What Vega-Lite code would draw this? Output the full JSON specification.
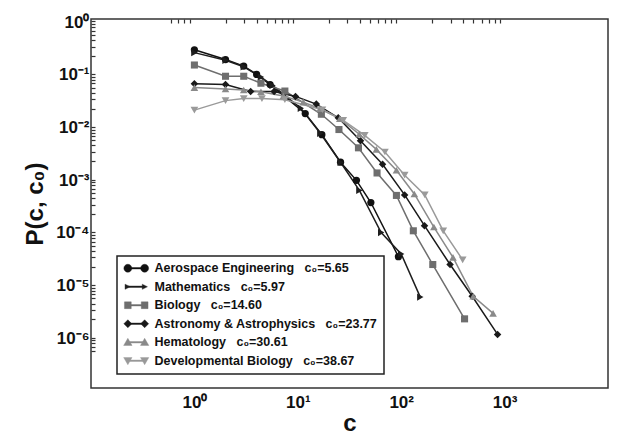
{
  "$schema": "https://vega.github.io/schema/vega-lite/v6.json",
  "width": 517,
  "height": 369,
  "autosize": "none",
  "padding": {"left": 91, "top": 19, "right": 12, "bottom": 52},
  "background": "white",
  "config": {"view": {"stroke": "#333333", "strokeWidth": 1.5}, "font": "Liberation Sans", "axis": {"ticks": false, "tickSize": 0, "grid": true, "domain": false, "gridColor": "#333333", "gridWidth": 1.2, "gridOpacity": 1, "zindex": 1}},
  "data": {"values": [
    {"series": "Aerospace Engineering", "c": 1, "p": 0.26},
    {"series": "Aerospace Engineering", "c": 2, "p": 0.17},
    {"series": "Aerospace Engineering", "c": 3, "p": 0.128},
    {"series": "Aerospace Engineering", "c": 4, "p": 0.089},
    {"series": "Aerospace Engineering", "c": 5.4, "p": 0.057},
    {"series": "Aerospace Engineering", "c": 11.8, "p": 0.0161},
    {"series": "Aerospace Engineering", "c": 17.1, "p": 0.0064},
    {"series": "Aerospace Engineering", "c": 25.9, "p": 0.00192},
    {"series": "Aerospace Engineering", "c": 36.9, "p": 0.00087},
    {"series": "Aerospace Engineering", "c": 50.9, "p": 0.00033},
    {"series": "Aerospace Engineering", "c": 94, "p": 0.000031},
    {"series": "Mathematics", "c": 1, "p": 0.23},
    {"series": "Mathematics", "c": 2, "p": 0.165},
    {"series": "Mathematics", "c": 3, "p": 0.124},
    {"series": "Mathematics", "c": 4.4, "p": 0.079},
    {"series": "Mathematics", "c": 5.7, "p": 0.055},
    {"series": "Mathematics", "c": 10.7, "p": 0.0203},
    {"series": "Mathematics", "c": 16.5, "p": 0.0068},
    {"series": "Mathematics", "c": 26, "p": 0.0019},
    {"series": "Mathematics", "c": 39.4, "p": 0.00056},
    {"series": "Mathematics", "c": 64, "p": 0.000089},
    {"series": "Mathematics", "c": 100, "p": 0.000035},
    {"series": "Mathematics", "c": 153, "p": 0.0000053},
    {"series": "Biology", "c": 1, "p": 0.134},
    {"series": "Biology", "c": 2, "p": 0.082},
    {"series": "Biology", "c": 3, "p": 0.082},
    {"series": "Biology", "c": 4.4, "p": 0.0605},
    {"series": "Biology", "c": 7.5, "p": 0.043},
    {"series": "Biology", "c": 16.9, "p": 0.0156},
    {"series": "Biology", "c": 25, "p": 0.008},
    {"series": "Biology", "c": 38.6, "p": 0.0036},
    {"series": "Biology", "c": 58.4, "p": 0.0012},
    {"series": "Biology", "c": 89.9, "p": 0.00045},
    {"series": "Biology", "c": 131, "p": 0.000096},
    {"series": "Biology", "c": 202, "p": 0.000022},
    {"series": "Biology", "c": 410, "p": 0.00000205},
    {"series": "Astronomy & Astrophysics", "c": 1, "p": 0.059},
    {"series": "Astronomy & Astrophysics", "c": 2, "p": 0.057},
    {"series": "Astronomy & Astrophysics", "c": 3.5, "p": 0.042},
    {"series": "Astronomy & Astrophysics", "c": 5.9, "p": 0.042},
    {"series": "Astronomy & Astrophysics", "c": 9.5, "p": 0.034},
    {"series": "Astronomy & Astrophysics", "c": 15.1, "p": 0.0243},
    {"series": "Astronomy & Astrophysics", "c": 24.6, "p": 0.0134},
    {"series": "Astronomy & Astrophysics", "c": 40.4, "p": 0.0049},
    {"series": "Astronomy & Astrophysics", "c": 66, "p": 0.00175},
    {"series": "Astronomy & Astrophysics", "c": 108, "p": 0.00046},
    {"series": "Astronomy & Astrophysics", "c": 168, "p": 0.00012},
    {"series": "Astronomy & Astrophysics", "c": 297, "p": 0.000022},
    {"series": "Astronomy & Astrophysics", "c": 486, "p": 0.0000055},
    {"series": "Astronomy & Astrophysics", "c": 855, "p": 0.00000104},
    {"series": "Hematology", "c": 1, "p": 0.05},
    {"series": "Hematology", "c": 2, "p": 0.047},
    {"series": "Hematology", "c": 3, "p": 0.045},
    {"series": "Hematology", "c": 4.4, "p": 0.0416},
    {"series": "Hematology", "c": 7.25, "p": 0.0346},
    {"series": "Hematology", "c": 11.3, "p": 0.0265},
    {"series": "Hematology", "c": 16.4, "p": 0.0198},
    {"series": "Hematology", "c": 25.5, "p": 0.0129},
    {"series": "Hematology", "c": 39.3, "p": 0.0065},
    {"series": "Hematology", "c": 57.5, "p": 0.00336},
    {"series": "Hematology", "c": 89.9, "p": 0.00135},
    {"series": "Hematology", "c": 134, "p": 0.00048},
    {"series": "Hematology", "c": 207, "p": 0.000113},
    {"series": "Hematology", "c": 317, "p": 0.00003},
    {"series": "Hematology", "c": 497, "p": 0.0000055},
    {"series": "Hematology", "c": 774, "p": 0.0000026},
    {"series": "Developmental Biology", "c": 1, "p": 0.0187},
    {"series": "Developmental Biology", "c": 2, "p": 0.0283},
    {"series": "Developmental Biology", "c": 3, "p": 0.031},
    {"series": "Developmental Biology", "c": 4.5, "p": 0.031},
    {"series": "Developmental Biology", "c": 7.5, "p": 0.0295},
    {"series": "Developmental Biology", "c": 17.3, "p": 0.019},
    {"series": "Developmental Biology", "c": 27.5, "p": 0.0119},
    {"series": "Developmental Biology", "c": 44.4, "p": 0.0062},
    {"series": "Developmental Biology", "c": 69.6, "p": 0.003},
    {"series": "Developmental Biology", "c": 108, "p": 0.00109},
    {"series": "Developmental Biology", "c": 169, "p": 0.00046},
    {"series": "Developmental Biology", "c": 255, "p": 0.000096},
    {"series": "Developmental Biology", "c": 393, "p": 0.000027}
  ]},
  "layer": [
    {
      "mark": {"type": "point", "opacity": 0},
      "encoding": {
        "x": {
          "field": "c", "type": "quantitative",
          "scale": {"type": "log", "domain": [0.6, 1690]},
          "axis": {
            "orient": "bottom", "labels": false, "title": null, "gridDash": [4, 2000], "zindex": 1,
            "values": [0.6,0.7,0.8,0.9,2,3,4,5,6,7,8,9,20,30,40,50,60,70,80,90,200,300,400,500,600,700,800,900]
          }
        },
        "y": {
          "field": "p", "type": "quantitative",
          "scale": {"type": "log", "domain": [4e-7, 1]},
          "axis": {
            "orient": "left", "labels": false, "title": null, "gridDash": [4, 2000], "zindex": 1,
            "values": [5e-7,6e-7,7e-7,8e-7,9e-7,2e-6,3e-6,4e-6,5e-6,6e-6,7e-6,8e-6,9e-6,2e-5,3e-5,4e-5,5e-5,6e-5,7e-5,8e-5,9e-5,2e-4,3e-4,4e-4,5e-4,6e-4,7e-4,8e-4,9e-4,0.002,0.003,0.004,0.005,0.006,0.007,0.008,0.009,0.02,0.03,0.04,0.05,0.06,0.07,0.08,0.09,0.2,0.3,0.4,0.5,0.6,0.7,0.8,0.9]
          }
        }
      }
    },
    {
      "mark": {"type": "point", "opacity": 0},
      "encoding": {
        "x": {
          "field": "c", "type": "quantitative",
          "axis": {
            "orient": "top", "labels": false, "title": null, "gridDash": [4, 2000], "zindex": 1,
            "values": [0.6,0.7,0.8,0.9,2,3,4,5,6,7,8,9,20,30,40,50,60,70,80,90,200,300,400,500,600,700,800,900]
          }
        },
        "y": {
          "field": "p", "type": "quantitative",
          "axis": {
            "orient": "right", "labels": false, "title": null, "gridDash": [4, 2000], "zindex": 1,
            "values": [5e-7,6e-7,7e-7,8e-7,9e-7,2e-6,3e-6,4e-6,5e-6,6e-6,7e-6,8e-6,9e-6,2e-5,3e-5,4e-5,5e-5,6e-5,7e-5,8e-5,9e-5,2e-4,3e-4,4e-4,5e-4,6e-4,7e-4,8e-4,9e-4,0.002,0.003,0.004,0.005,0.006,0.007,0.008,0.009,0.02,0.03,0.04,0.05,0.06,0.07,0.08,0.09,0.2,0.3,0.4,0.5,0.6,0.7,0.8,0.9]
          }
        }
      }
    },
    {
      "mark": {"type": "line", "strokeWidth": 1.5},
      "encoding": {
        "x": {
          "field": "c", "type": "quantitative",
          "axis": {
            "orient": "bottom", "gridDash": [8, 2000], "zindex": 1,
            "values": [1, 10, 100, 1000],
            "labelExpr": "'10' + ['⁰','¹','²','³'][round(log(datum.value)/LN10)]",
            "labelOverlap": false, "labelFlush": false,
            "labelFont": "Liberation Sans", "labelFontSize": 17, "labelFontWeight": "bold", "labelColor": "#111111",
            "labelPadding": 6,
            "title": "c", "titleFont": "Liberation Sans", "titleFontSize": 24, "titleFontWeight": "bold", "titleColor": "#111111", "titlePadding": 1
          }
        },
        "y": {
          "field": "p", "type": "quantitative",
          "axis": {
            "orient": "left", "gridDash": [8, 2000], "zindex": 1,
            "values": [1e-6, 1e-5, 1e-4, 0.001, 0.01, 0.1, 1],
            "labelExpr": "'10' + (round(log(datum.value)/LN10) < 0 ? '⁻' : '') + ['⁰','¹','²','³','⁴','⁵','⁶'][abs(round(log(datum.value)/LN10))]",
            "labelOverlap": false, "labelFlush": false,
            "labelFont": "Liberation Sans", "labelFontSize": 17, "labelFontWeight": "bold", "labelColor": "#111111",
            "labelPadding": 2, "labelOffset": 3,
            "title": "P(c, c₀)", "titleFont": "Liberation Sans", "titleFontSize": 24, "titleFontWeight": "bold", "titleColor": "#111111", "titlePadding": 8
          }
        },
        "color": {
          "field": "series", "type": "nominal",
          "scale": {
            "domain": ["Aerospace Engineering", "Mathematics", "Biology", "Astronomy & Astrophysics", "Hematology", "Developmental Biology"],
            "range": ["#111111", "#1e1e1e", "#6e6e6e", "#1a1a1a", "#8a8a8a", "#9a9a9a"]
          },
          "legend": {
            "orient": "none", "legendX": 26, "legendY": 237,
            "title": null,
            "labelFont": "Liberation Sans", "labelFontSize": 12.5, "labelFontWeight": "bold", "labelColor": "#111111", "labelLimit": 0,
            "labelExpr": "datum.label + '\u00a0\u00a0\u00a0c₀=' + (datum.label == 'Aerospace Engineering' ? '5.65' : datum.label == 'Mathematics' ? '5.97' : datum.label == 'Biology' ? '14.60' : datum.label == 'Astronomy & Astrophysics' ? '23.77' : datum.label == 'Hematology' ? '30.61' : '38.67')",
            "strokeColor": "#222222", "fillColor": "white", "padding": 6, "rowPadding": 5.5,
            "symbolSize": 64, "symbolStrokeWidth": 0.4, "symbolOffset": 7, "labelOffset": 12,
            "encode": {
              "symbols": {
                "update": {
                  "shape": {"signal": "['M-3.1,0A1,1 0 1,1 -1.1,0A1,1 0 1,1 -3.1,0Z M1.1,0A1,1 0 1,1 3.1,0A1,1 0 1,1 1.1,0Z M-2.1,-0.18H2.1V0.18H-2.1Z', 'M-2.8,-0.65L-1.5,0L-2.8,0.65Z M1.5,-0.65L2.8,0L1.5,0.65Z M-2.1,-0.18H2.1V0.18H-2.1Z', 'M-2.95,-0.85H-1.25V0.85H-2.95Z M1.25,-0.85H2.95V0.85H1.25Z M-2.1,-0.18H2.1V0.18H-2.1Z', 'M-2.1,-1L-1.1,0L-2.1,1L-3.1,0Z M2.1,-1L3.1,0L2.1,1L1.1,0Z M-2.1,-0.18H2.1V0.18H-2.1Z', 'M-2.1,-1L-1.05,0.8L-3.15,0.8Z M2.1,-1L3.15,0.8L1.05,0.8Z M-2.1,-0.18H2.1V0.18H-2.1Z', 'M-3.15,-0.8L-1.05,-0.8L-2.1,1Z M1.05,-0.8L3.15,-0.8L2.1,1Z M-2.1,-0.18H2.1V0.18H-2.1Z'][datum.index]"},
                  "fill": {"signal": "['#111111','#1e1e1e','#6e6e6e','#1a1a1a','#8a8a8a','#9a9a9a'][datum.index]"},
                  "stroke": {"signal": "['#111111','#1e1e1e','#6e6e6e','#1a1a1a','#8a8a8a','#9a9a9a'][datum.index]"},
                  "size": {"value": 64}
                }
              },
              "legend": {"update": {"strokeWidth": {"value": 1.5}}}
            }
          }
        }
      }
    },
    {
      "mark": {"type": "point", "filled": true, "opacity": 1},
      "encoding": {
        "x": {
          "field": "c", "type": "quantitative",
          "axis": {"orient": "top", "labels": false, "title": null, "gridDash": [8, 2000], "zindex": 1, "values": [1, 10, 100, 1000]}
        },
        "y": {
          "field": "p", "type": "quantitative",
          "axis": {"orient": "right", "labels": false, "title": null, "gridDash": [8, 2000], "zindex": 1, "values": [1e-6, 1e-5, 1e-4, 0.001, 0.01, 0.1, 1]}
        },
        "color": {"field": "series", "type": "nominal"},
        "shape": {
          "field": "series", "type": "nominal",
          "scale": {
            "domain": ["Mathematics", "Aerospace Engineering", "Biology", "Astronomy & Astrophysics", "Hematology", "Developmental Biology"],
            "range": ["triangle-right", "circle", "square", "diamond", "triangle-up", "triangle-down"]
          },
          "legend": null
        },
        "size": {
          "field": "series", "type": "ordinal",
          "scale": {
            "domain": ["Biology", "Aerospace Engineering", "Mathematics", "Astronomy & Astrophysics", "Hematology", "Developmental Biology"],
            "range": [50, 60, 36, 45, 64, 64]
          },
          "legend": null
        }
      }
    }
  ],
  "resolve": {"axis": {"x": "independent", "y": "independent"}}
}
